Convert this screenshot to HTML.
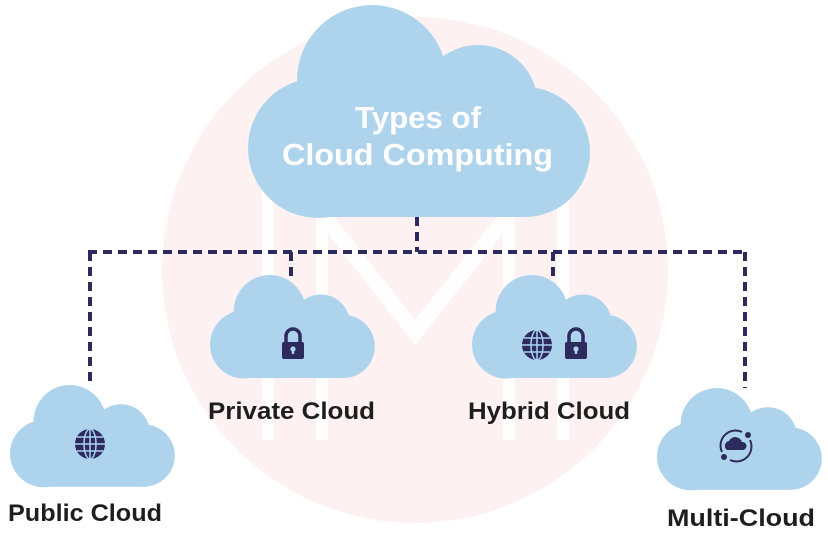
<!DOCTYPE html>
<html><head><meta charset="utf-8"><style>
html,body{margin:0;padding:0;background:#fff;}
svg{display:block;}
text{font-family:"Liberation Sans",sans-serif;font-weight:bold;}
</style></head><body>
<svg width="828" height="535" viewBox="0 0 828 535" xmlns="http://www.w3.org/2000/svg">
<defs>
<g id="c">
<circle cx="70" cy="143" r="70"/><circle cx="124" cy="75" r="75"/><circle cx="230" cy="100" r="60"/><circle cx="277" cy="147" r="65"/><rect x="70" y="95" width="207" height="117"/>
</g>
<g id="lock" fill="#2d2a5e">
<path d="M-7,-2 v-6 a7,7 0 0 1 14,0 v6" fill="none" stroke="#2d2a5e" stroke-width="3.5"/>
<rect x="-11" y="-2" width="22" height="17" rx="2"/>
<circle cx="0" cy="5" r="2.6" fill="#a8d4f0"/><rect x="-1.2" y="5" width="2.4" height="5" fill="#a8d4f0"/>
</g>
<g id="globe">
<circle r="15" fill="#2d2a5e"/>
<g stroke="#a8d4f0" stroke-width="1.5" fill="none">
<ellipse rx="6" ry="15"/><line x1="0" y1="-15" x2="0" y2="15"/>
<line x1="-15" y1="0" x2="15" y2="0"/><line x1="-13" y1="-7" x2="13" y2="-7"/><line x1="-13" y1="7" x2="13" y2="7"/>
</g>
</g>
</defs>
<circle cx="415" cy="270" r="253" fill="#fdf1f2"/>
<g fill="#ffffff" opacity="0.95">
<rect x="262" y="140" width="12" height="300"/><rect x="316" y="150" width="12" height="290"/>
<rect x="503" y="150" width="12" height="290"/><rect x="557" y="140" width="12" height="300"/>
<polygon points="274,140 415,320 557,140 557,165 415,345 274,165"/>
</g>
<g fill="#a8d1ec" opacity="0.93">
<use href="#c" transform="translate(248,5)"/>
<use href="#c" transform="translate(210,275) scale(0.482,0.486)"/>
<use href="#c" transform="translate(472,275) scale(0.482,0.486)"/>
<use href="#c" transform="translate(10,385) scale(0.482,0.48)"/>
<use href="#c" transform="translate(657,388) scale(0.482,0.48)"/>
</g>
<g stroke="#2d2a5e" stroke-width="4" stroke-dasharray="9,6" fill="none">
<line x1="88" y1="252" x2="747" y2="252"/>
<line x1="417" y1="217" x2="417" y2="252"/>
<line x1="90" y1="252" x2="90" y2="386"/>
<line x1="745" y1="252" x2="745" y2="388"/>
<line x1="291" y1="252" x2="291" y2="276"/>
<line x1="553" y1="252" x2="553" y2="276"/>
</g>
<text x="355" y="128" fill="#fff" font-size="31" textLength="126" lengthAdjust="spacingAndGlyphs">Types of</text>
<text x="282" y="165" fill="#fff" font-size="31" textLength="271" lengthAdjust="spacingAndGlyphs">Cloud Computing</text>
<use href="#lock" transform="translate(293,344)"/>
<use href="#globe" transform="translate(537,345)"/>
<use href="#lock" transform="translate(576,344)"/>
<use href="#globe" transform="translate(90,444)"/>
<g transform="translate(736,446)" fill="#2d2a5e">
<path d="M-9,4 a5,5 0 0 1 2,-9 a7,7 0 0 1 13,1 a4,4 0 0 1 1,8 z"/>
<path d="M-14,6 A15,15 0 0 1 6,-14" stroke="#2d2a5e" stroke-width="2" fill="none"/>
<path d="M14,-6 A15,15 0 0 1 -6,14" stroke="#2d2a5e" stroke-width="2" fill="none"/>
<circle cx="12" cy="-11" r="3"/><circle cx="-12" cy="11" r="3"/>
</g>
<g fill="#1e1e1e">
<text x="208" y="419" font-size="24" textLength="167" lengthAdjust="spacingAndGlyphs">Private Cloud</text>
<text x="468" y="419" font-size="24" textLength="162" lengthAdjust="spacingAndGlyphs">Hybrid Cloud</text>
<text x="8" y="521" font-size="24" textLength="154" lengthAdjust="spacingAndGlyphs">Public Cloud</text>
<text x="667" y="526" font-size="24" textLength="148" lengthAdjust="spacingAndGlyphs">Multi-Cloud</text>
</g>
</svg>
</body></html>
